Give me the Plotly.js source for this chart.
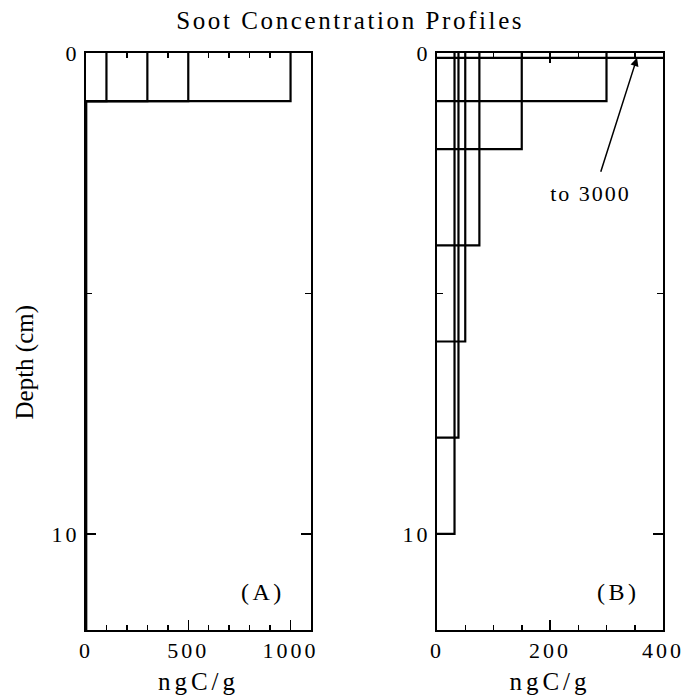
<!DOCTYPE html>
<html>
<head>
<meta charset="utf-8">
<script src="https://cdn.plot.ly/plotly-3.0.1.min.js"></script>
<style>
html,body{margin:0;padding:0;background:#fff;}
#chart{width:684px;height:698px;}
.gtitle { letter-spacing: 2.6px; }
.xtick text, .x2tick text, .ytick text, .y2tick text { letter-spacing: 3px; }
.xtitle, .x2title { letter-spacing: 4px; }
.annotation-text { letter-spacing: 3.5px; }
.annotation[data-index="0"] .annotation-text { letter-spacing: 0px; }
.annotation[data-index="4"] .annotation-text { letter-spacing: 2px; }
</style>
</head>
<body>
<div id="chart"></div>
<script>
// Panel A: surface-layer concentrations (ngC/g) and layer bottom depth (cm)
const A_values = [100, 300, 500, 1000];
const A_layerDepth = [1, 1, 1, 1];
const A_coreBottom = 12;
// Panel B: profiles (ngC/g) extending from surface to given depth (cm)
const B_values = [3000, 300, 150, 75, 50, 38, 31];
const B_layerDepth = [0.1, 1, 2, 4, 6, 8, 10];
// Axis ticks
const yTickVals = [0, 10];
const yTickLabels = ['0', '10'];

const lineStyle = {color: 'black', width: 2.2};
const traces = [];
A_values.forEach((v, i) => {
  traces.push({type: 'scatter', mode: 'lines', xaxis: 'x', yaxis: 'y',
    x: [v, v, 0, 0], y: [0, A_layerDepth[i], A_layerDepth[i], A_coreBottom],
    line: lineStyle, showlegend: false, hoverinfo: 'skip'});
});
B_values.forEach((v, i) => {
  traces.push({type: 'scatter', mode: 'lines', xaxis: 'x2', yaxis: 'y2',
    x: [v, v, 0], y: [0, B_layerDepth[i], B_layerDepth[i]],
    line: lineStyle, showlegend: false, hoverinfo: 'skip'});
});

const fam = "'Liberation Serif', 'Times New Roman', Times, serif";
const tickFont = {family: fam, size: 22, color: 'black'};
const titleFont = {family: fam, size: 25, color: 'black'};
const xBase = {
  showline: true, linewidth: 2, linecolor: 'black', mirror: 'ticks',
  ticks: 'inside', ticklen: 10, tickwidth: 1.5, tickcolor: 'black',
  showgrid: false, zeroline: false, tick0: 0, automargin: false,
  tickfont: tickFont, fixedrange: true
};
const yBase = Object.assign({}, xBase, {
  range: [12, 0], tickmode: 'array', tickvals: yTickVals, ticktext: yTickLabels,
  minor: {tickvals: [5], ticks: 'inside', ticklen: 6, tickwidth: 1.5, tickcolor: 'black', showgrid: false}
});

const layout = {
  width: 684, height: 698,
  margin: {l: 0, r: 0, t: 0, b: 0},
  paper_bgcolor: 'white', plot_bgcolor: 'white',
  font: tickFont,
  showlegend: false,
  title: {text: 'Soot Concentration Profiles', font: titleFont,
          x: 0.512, xref: 'paper', y: 1 - 20/698, yref: 'container', yanchor: 'middle', xanchor: 'center'},
  xaxis: Object.assign({}, xBase, {
    domain: [86/684, 311/684], range: [0, 1100], dtick: 500, anchor: 'y',
    minor: {dtick: 100, tick0: 0, ticks: 'inside', ticklen: 5, tickwidth: 1.5, tickcolor: 'black', showgrid: false},
    title: {text: 'ngC/g', font: titleFont, standoff: 10}
  }),
  yaxis: Object.assign({}, yBase, {
    domain: [1 - 630/698, 1 - 53/698], anchor: 'x'
  }),
  xaxis2: Object.assign({}, xBase, {
    domain: [437/684, 663/684], range: [0, 400], dtick: 200, anchor: 'y2',
    minor: {dtick: 50, tick0: 0, ticks: 'inside', ticklen: 5, tickwidth: 1.5, tickcolor: 'black', showgrid: false},
    title: {text: 'ngC/g', font: titleFont, standoff: 10}
  }),
  yaxis2: Object.assign({}, yBase, {
    domain: [1 - 630/698, 1 - 53/698], anchor: 'x2'
  }),
  annotations: [
    {xref: 'paper', yref: 'paper', x: 25/684, y: 1 - 362/698, text: 'Depth (cm)', textangle: -90,
     showarrow: false, font: {family: fam, size: 25, color: 'black'}, xanchor: 'center', yanchor: 'middle'},
    {xref: 'x', yref: 'y', x: 865, y: 11.2, text: '(A)', showarrow: false, font: {family: fam, size: 24, color: 'black'}},
    {xref: 'x2', yref: 'y2', x: 322, y: 11.2, text: '(B)', showarrow: false, font: {family: fam, size: 24, color: 'black'}},
    {xref: 'x2', yref: 'y2', x: 354, y: 0.1, ax: 289, ay: 2.5, axref: 'x2', ayref: 'y2',
     text: '', showarrow: true, arrowhead: 2, arrowsize: 1.1, arrowwidth: 1.5, arrowcolor: 'black'},
    {xref: 'x2', yref: 'y2', x: 272, y: 2.92, text: 'to 3000', showarrow: false,
     font: {family: fam, size: 22, color: 'black'}}
  ]
};

Plotly.newPlot('chart', traces, layout, {displayModeBar: false, staticPlot: true});
</script>
</body>
</html>
